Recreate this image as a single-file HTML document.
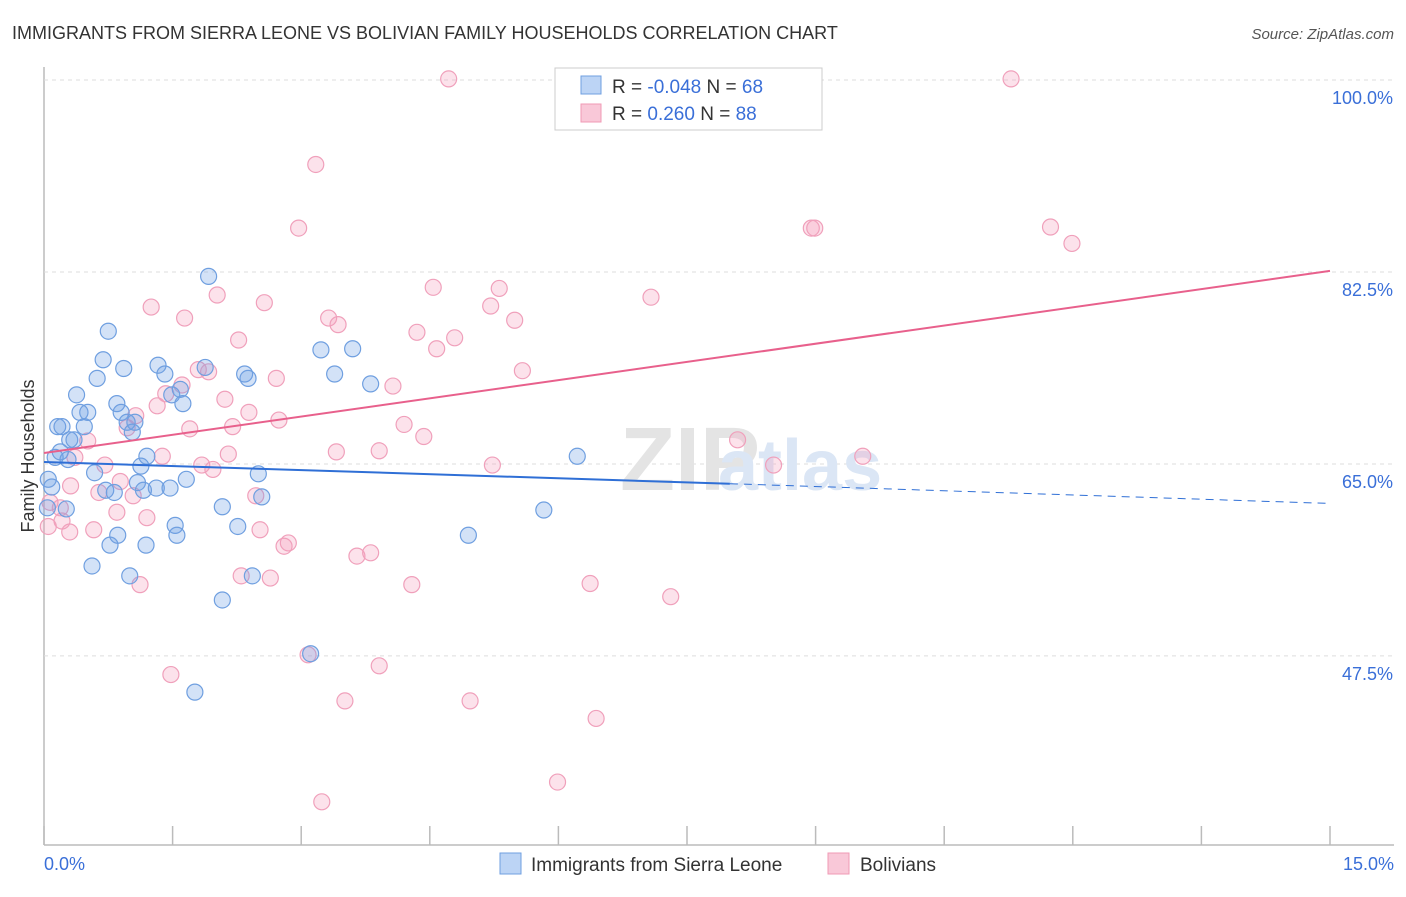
<!DOCTYPE html>
<html><head><meta charset="utf-8"><style>
body{margin:0;background:#fff;font-family:"Liberation Sans",sans-serif;}
svg text{font-family:"Liberation Sans",sans-serif;}
</style></head><body>
<svg id="chart" width="1406" height="892">
<text x="12" y="39" font-size="18" fill="#333">IMMIGRANTS FROM SIERRA LEONE VS BOLIVIAN FAMILY HOUSEHOLDS CORRELATION CHART</text>
<text x="1394" y="39" font-size="15" fill="#555" font-style="italic" text-anchor="end">Source: ZipAtlas.com</text>
<text x="34" y="456" font-size="18" fill="#333" text-anchor="middle" transform="rotate(-90 34 456)">Family Households</text>
<g id="grid"></g>
<text x="620" y="490" font-size="90" fill="#e4e4e4" font-family="Liberation Serif" font-weight="bold">ZIP</text>
<text x="718" y="490" font-size="72" fill="#dbe6f5" font-weight="bold">atlas</text>
<g id="points"></g>
<g id="lines"></g>
<g>
<rect x="555" y="68" width="267" height="62" fill="#fff" stroke="#ccc"/>
<rect x="581" y="76" width="20" height="18" fill="#bcd4f5" stroke="#6f9fe0"/>
<rect x="581" y="104" width="20" height="18" fill="#f9c8d8" stroke="#f09ab5"/>
<text x="612" y="93" font-size="19" fill="#333">R = <tspan fill="#3a6fd8">-0.048</tspan>   N = <tspan fill="#3a6fd8">68</tspan></text>
<text x="612" y="120" font-size="19" fill="#333">R =  <tspan fill="#3a6fd8"> 0.260</tspan>   N = <tspan fill="#3a6fd8">88</tspan></text>
</g>
<g>
<rect x="500" y="853" width="21" height="21" fill="#bcd4f5" stroke="#6f9fe0"/>
<text x="531" y="871" font-size="19" fill="#333">Immigrants from Sierra Leone</text>
<rect x="828" y="853" width="21" height="21" fill="#f9c8d8" stroke="#f09ab5"/>
<text x="860" y="871" font-size="19" fill="#333">Bolivians</text>
</g>
<text x="44" y="870" font-size="18" fill="#3a6fd8">0.0%</text>
<text x="1394" y="870" font-size="18" fill="#3a6fd8" text-anchor="end">15.0%</text>
</svg>
<script>
const yTicks=[100,82.5,65,47.5];
const yTickLabels=["100.0%","82.5%","65.0%","47.5%"];
const blueX=[0.09,0.13,0.16,0.21,0.26,0.30,0.35,0.38,0.42,0.47,0.51,0.56,0.59,0.62,0.69,0.72,0.75,0.77,0.82,0.85,0.86,0.90,0.93,0.97,1.00,1.03,1.06,1.09,1.13,1.16,1.19,1.20,1.31,1.33,1.41,1.47,1.49,1.53,1.55,1.59,1.62,1.66,1.76,1.88,1.92,2.08,2.08,2.26,2.34,2.38,2.43,2.50,2.54,3.11,3.23,3.39,3.60,3.81,4.95,5.83,6.22,0.04,0.05,0.19,0.28];
const blueY=[62.9,65.6,68.4,68.4,60.9,67.2,67.2,71.3,69.7,68.4,69.7,55.7,64.2,72.8,74.5,62.6,77.1,57.6,62.4,70.5,58.5,69.7,73.7,68.8,54.8,67.9,68.8,63.3,64.8,62.6,57.6,65.7,62.8,74.0,73.2,62.8,71.3,59.4,58.5,71.8,70.5,63.6,44.2,73.8,82.1,61.1,52.6,59.3,73.2,72.8,54.8,64.1,62.0,47.7,75.4,73.2,75.5,72.3,58.5,60.8,65.7,61.0,63.6,66.1,65.4];
const pinkX=[4.72,11.28,3.17,2.97,8.95,8.99,11.74,11.99,2.02,1.25,2.57,4.54,5.31,7.08,1.64,3.32,3.43,5.21,5.49,2.27,4.35,4.79,4.58,1.80,1.92,5.58,2.71,1.61,4.07,1.42,2.11,1.32,2.39,1.07,2.74,4.20,2.20,1.70,0.97,4.43,8.09,0.51,0.36,1.38,3.41,3.91,2.15,1.84,1.97,9.55,8.51,5.23,0.89,0.31,0.71,0.64,1.04,2.47,0.21,0.85,1.20,0.30,0.58,2.52,2.85,2.80,0.05,3.65,3.81,1.12,2.30,2.64,4.29,6.37,7.31,1.48,3.08,3.91,6.44,3.51,4.97,5.99,3.24,0.19,0.07];
const pinkY=[100.1,100.1,92.3,86.5,86.5,86.5,86.6,85.1,80.4,79.3,79.7,81.1,81.0,80.2,78.3,78.3,77.7,79.4,78.1,76.3,77.0,76.5,75.5,73.6,73.4,73.5,72.8,72.2,72.1,71.4,70.9,70.3,69.7,69.4,69.0,68.6,68.4,68.2,68.3,67.5,67.2,67.1,65.6,65.7,66.1,66.2,65.9,64.9,64.5,65.7,64.9,64.9,63.4,63.0,64.9,62.4,62.1,62.1,59.8,60.6,60.1,58.8,59.0,59.0,57.8,57.5,59.3,56.6,56.9,54.0,54.8,54.6,54.0,54.1,52.9,45.8,47.6,46.6,41.8,43.4,43.4,36.0,34.2,61.0,61.5];
const blueLineVals=[65.18,63.2,61.4];const blueLineX=[0,8,15];
const pinkLineVals=[66.0,82.6];const pinkLineX=[0,15];
const X=v=>44+v/15*1286;
const Y=v=>80+(100-v)*10.97;
const NS="http://www.w3.org/2000/svg";
const mk=(t,a,p)=>{const e=document.createElementNS(NS,t);for(const k in a)e.setAttribute(k,a[k]);p.appendChild(e);return e;};
const grid=document.getElementById('grid');
mk('line',{x1:44,y1:67,x2:44,y2:845,stroke:'#bbb','stroke-width':1.5},grid);
mk('line',{x1:44,y1:845,x2:1394,y2:845,stroke:'#bbb','stroke-width':1.5},grid);
for(let i=0;i<=10;i++){const tl=mk('line',{x1:X(i*1.5),y1:826,x2:X(i*1.5),y2:845,stroke:'#bbb','stroke-width':1.5},grid);

}
yTicks.forEach((v,i)=>{const g=mk('line',{x1:44,y1:Y(v),x2:1394,y2:Y(v),stroke:'#ddd','stroke-dasharray':'4 4'},grid);


const t=mk('text',{x:1393,y:Y(v)+24,'font-size':18,fill:'#3a6fd8','text-anchor':'end'},grid);t.textContent=yTickLabels[i];

});
const pts=document.getElementById('points');
pinkX.forEach((x,i)=>{const c=mk('circle',{cx:X(x),cy:Y(pinkY[i]),r:8,fill:'rgba(244,160,190,0.3)',stroke:'#f0a0bb','stroke-width':1.2},pts);

});
blueX.forEach((x,i)=>{const c=mk('circle',{cx:X(x),cy:Y(blueY[i]),r:8,fill:'rgba(110,160,230,0.3)',stroke:'#6f9fe0','stroke-width':1.2},pts);

});
const ln=document.getElementById('lines');
const b1=mk('line',{x1:X(blueLineX[0]),y1:Y(blueLineVals[0]),x2:X(blueLineX[1]),y2:Y(blueLineVals[1]),stroke:'#2f6fd6','stroke-width':2},ln);


const b2=mk('line',{x1:X(blueLineX[1]),y1:Y(blueLineVals[1]),x2:X(blueLineX[2]),y2:Y(blueLineVals[2]),stroke:'#2f6fd6','stroke-width':1,'stroke-dasharray':'8 6'},ln);


const p1=mk('line',{x1:X(pinkLineX[0]),y1:Y(pinkLineVals[0]),x2:X(pinkLineX[1]),y2:Y(pinkLineVals[1]),stroke:'#e8608c','stroke-width':2},ln);


</script>
</body></html>
